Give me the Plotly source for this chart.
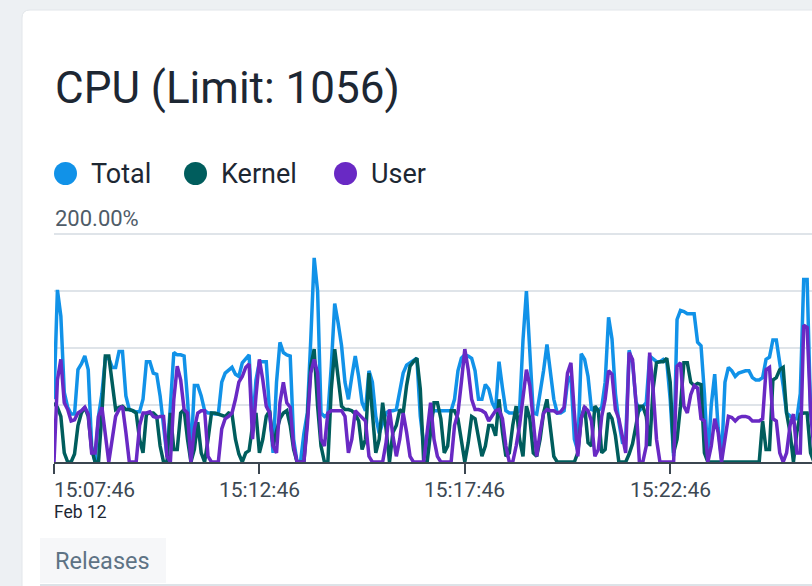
import plotly.graph_objects as go
import pandas as pd

# ---------------- data ----------------
day = "2024-02-12"
start_time = "15:07:46"
step_seconds = 5

total = [
    55, 151, 128, 61, 48, 42, 42, 81, 86, 93,
    81, 14, 0, 40, 60, 91, 91, 83, 83, 97,
    97, 58, 46, 45, 44, 44, 55, 88, 88, 78,
    77, 58, 32, 5, 49, 96, 94, 94, 93, 55,
    5, 67, 67, 58, 45, 43, 43, 42, 42, 70,
    78, 81, 83, 77, 75, 87, 91, 94, 32, 72,
    88, 88, 88, 43, 8, 70, 105, 96, 94, 93,
    20, 0, 0, 25, 43, 107, 179, 150, 43, 40,
    42, 84, 139, 122, 102, 70, 55, 75, 93, 75,
    52, 45, 80, 70, 40, 25, 35, 43, 45, 45,
    46, 64, 78, 85, 87, 89, 91, 40, 15, 5,
    40, 45, 45, 45, 45, 45, 45, 55, 80, 91,
    94, 93, 91, 80, 55, 55, 68, 64, 52, 46,
    88, 65, 45, 43, 43, 43, 45, 107, 150, 102,
    43, 42, 60, 80, 103, 80, 55, 43, 43, 45,
    70, 75, 20, 10, 95, 90, 75, 46, 45, 45,
    48, 70, 127, 108, 60, 35, 18, 20, 98, 87,
    53, 45, 49, 52, 93, 90, 88, 88, 90, 88,
    55, 5, 125, 133, 132, 130, 130, 130, 105, 102,
    60, 3, 50, 77, 30, 3, 70, 83, 80, 75,
    78, 79, 80, 80, 74, 72, 72, 74, 90, 92,
    107, 107, 88, 67, 43, 40, 38, 38, 60, 160,
    160, 45, 20,
]

kernel = [
    52, 48, 40, 8, 0, 0, 7, 32, 43, 48,
    40, 11, 0, 0, 43, 93, 93, 72, 46, 48,
    49, 46, 46, 45, 43, 20, 8, 42, 43, 43,
    40, 14, 0, 0, 43, 11, 11, 43, 46, 20,
    0, 11, 35, 8, 0, 20, 43, 43, 42, 41,
    40, 43, 42, 20, 7, 0, 8, 10, 32, 43,
    8, 20, 40, 45, 14, 27, 38, 43, 45, 32,
    11, 0, 0, 0, 38, 84, 99, 49, 14, 0,
    0, 64, 99, 72, 49, 46, 46, 45, 42, 36,
    11, 20, 78, 43, 8, 20, 52, 29, 0, 26,
    32, 46, 43, 67, 84, 88, 91, 64, 0, 0,
    26, 52, 52, 38, 8, 14, 45, 45, 38, 20,
    0, 17, 40, 38, 20, 5, 14, 32, 32, 23,
    55, 26, 5, 8, 32, 49, 20, 5, 49, 38,
    8, 5, 20, 43, 55, 32, 5, 0, 0, 0,
    0, 0, 0, 8, 38, 49, 17, 14, 49, 45,
    8, 11, 43, 38, 23, 0, 0, 0, 7, 16,
    32, 49, 49, 40, 14, 64, 87, 88, 88, 91,
    70, 8, 20, 49, 87, 87, 70, 67, 69, 68,
    8, 0, 0, 0, 0, 0, 0, 0, 0, 0,
    0, 0, 0, 0, 0, 0, 0, 36, 11, 11,
    72, 74, 81, 83, 43, 26, 0, 26, 42, 43,
    43, 8, 0,
]

user = [
    0, 72, 90, 52, 46, 36, 37, 43, 45, 48,
    42, 8, 8, 40, 48, 26, 0, 20, 40, 46,
    49, 26, 0, 0, 0, 32, 43, 43, 44, 40,
    39, 40, 40, 5, 0, 55, 84, 72, 46, 43,
    0, 29, 43, 45, 45, 5, 0, 0, 0, 29,
    38, 40, 43, 55, 70, 75, 83, 86, 20, 58,
    90, 72, 49, 43, 14, 8, 52, 70, 52, 48,
    14, 0, 0, 0, 32, 78, 90, 78, 20, 14,
    43, 45, 45, 45, 45, 40, 8, 20, 45, 42,
    39, 36, 5, 0, 0, 0, 0, 17, 46, 23,
    5, 20, 43, 26, 5, 0, 0, 0, 0, 26,
    52, 20, 5, 0, 0, 0, 0, 32, 43, 70,
    99, 81, 55, 46, 46, 45, 43, 36, 40, 45,
    46, 38, 14, 0, 0, 14, 32, 58, 81, 67,
    32, 5, 26, 43, 46, 45, 45, 43, 44, 48,
    78, 87, 43, 5, 38, 48, 45, 36, 5, 11,
    40, 55, 80, 77, 46, 38, 23, 8, 96, 90,
    52, 0, 0, 14, 96, 64, 20, 0, 0, 0,
    0, 0, 84, 87, 49, 43, 59, 67, 65, 38,
    36, 0, 14, 38, 26, 0, 20, 40, 39, 36,
    39, 40, 40, 39, 36, 36, 36, 38, 81, 83,
    38, 36, 8, 0, 8, 32, 42, 8, 8, 120,
    118, 45, 10,
]

series_names = ["Total", "Kernel", "User"]
series_colors = ["#1192e8", "#005d5d", "#6929c4"]
tick_labels = ["15:07:46", "15:12:46", "15:17:46", "15:22:46"]
date_label = "Feb 12"
title_text = "CPU (Limit: 1056)"
y_top_label = "200.00%"
y_gridvals = [50, 100, 150, 200]
tab_label = "Releases"

# ---------------- layout geometry ----------------
W, H = 812, 586
L, R, T, B = 54, 0, 226, 124
PW = W - L - R
PH = H - T - B
FONT = "Roboto, 'Open Sans', sans-serif"
px_per_unit = 228 / 200.0          # 200% spans 228 px
y_top = PH / px_per_unit           # headroom so the 200% grid line is drawn


def fx(x):
    return (x - L) / PW


def fy(y):
    return (H - B - y) / PH


start = pd.Timestamp(f"{day} {start_time}")
px_per_sec = 205.4 / 300.0
x_end = start + pd.Timedelta(seconds=PW / px_per_sec)
tick_times = [pd.Timestamp(f"{day} {t}") for t in tick_labels]


def times_for(vals):
    return [start + pd.Timedelta(seconds=step_seconds * i) for i in range(len(vals))]


fig = go.Figure()
for name, vals, col in zip(series_names, [total, kernel, user], series_colors):
    fig.add_trace(go.Scatter(
        x=times_for(vals), y=vals, mode="lines", name=name,
        line=dict(color=col, width=3.5), hoverinfo="skip", showlegend=False,
    ))

shapes = []
# card with rounded top-left corner
cx0, cy0, r, cx1, cy1 = 22, 10, 8, 840, 620
path = (f"M {fx(cx0)},{fy(cy1)} L {fx(cx0)},{fy(cy0 + r)} "
        f"Q {fx(cx0)},{fy(cy0)} {fx(cx0 + r)},{fy(cy0)} "
        f"L {fx(cx1)},{fy(cy0)} L {fx(cx1)},{fy(cy1)} Z")
shapes.append(dict(type="path", path=path, xref="paper", yref="paper",
                   fillcolor="white", line=dict(color="#e2e6ea", width=1), layer="below"))
# releases tab
shapes.append(dict(type="rect", xref="paper", yref="paper",
                   x0=fx(40), x1=fx(166), y0=fy(583), y1=fy(538),
                   fillcolor="#f6f7f9", line=dict(width=0), layer="below"))
shapes.append(dict(type="line", xref="paper", yref="paper",
                   x0=fx(40), x1=fx(830), y0=fy(585), y1=fy(585),
                   line=dict(color="#dde3e8", width=2), layer="below"))

annotations = []
annotations.append(dict(text=title_text, xref="paper", yref="paper", x=fx(53), y=fy(88),
                        xanchor="left", yanchor="middle", showarrow=False,
                        font=dict(family=FONT, size=44, color="#1d2733")))

legend_x = [54, 184, 334]
for lx, name, col in zip(legend_x, series_names, series_colors):
    shapes.append(dict(type="circle", xref="paper", yref="paper",
                       x0=fx(lx), x1=fx(lx + 23), y0=fy(185), y1=fy(162),
                       fillcolor=col, line=dict(width=0), layer="above"))
    annotations.append(dict(text=name, xref="paper", yref="paper", x=fx(lx + 35), y=fy(174),
                            xanchor="left", yanchor="middle", showarrow=False,
                            font=dict(family=FONT, size=27, color="#1d2733")))

annotations.append(dict(text=y_top_label, xref="paper", yref="paper", x=fx(53), y=fy(218),
                        xanchor="left", yanchor="middle", showarrow=False,
                        font=dict(family=FONT, size=22, color="#4f5c68")))

for k, (t, lab) in enumerate(zip(tick_times, tick_labels)):
    annotations.append(dict(text=lab, xref="x", yref="paper", x=t, y=fy(490),
                            xanchor="left" if k == 0 else "center", yanchor="middle",
                            showarrow=False, xshift=-2 if k == 0 else 0,
                            font=dict(family=FONT, size=21, color="#3c4853")))
annotations.append(dict(text=date_label, xref="x", yref="paper", x=tick_times[0], y=fy(512),
                        xanchor="left", yanchor="middle", showarrow=False, xshift=-2,
                        font=dict(family=FONT, size=17.5, color="#1d2733")))
annotations.append(dict(text=tab_label, xref="paper", yref="paper", x=fx(53), y=fy(561),
                        xanchor="left", yanchor="middle", showarrow=False,
                        font=dict(family=FONT, size=23.5, color="#5e7385")))

fig.update_layout(
    width=W, height=H, autosize=False,
    margin=dict(l=L, r=R, t=T, b=B, pad=0),
    paper_bgcolor="#edf0f3", plot_bgcolor="rgba(0,0,0,0)",
    showlegend=False,
    shapes=shapes, annotations=annotations,
    xaxis=dict(type="date", range=[start, x_end], showgrid=False, zeroline=False,
               showline=True, linecolor="#3b4650", linewidth=2,
               ticks="outside", ticklen=10, tickwidth=2, tickcolor="#3b4650",
               tickvals=tick_times, showticklabels=False, fixedrange=True),
    yaxis=dict(range=[0, y_top], tickvals=y_gridvals, showticklabels=False,
               showgrid=True, gridcolor="#dfe4e9", gridwidth=2, zeroline=False,
               showline=False, ticks="", fixedrange=True),
)

fig.write_html("out.html")
